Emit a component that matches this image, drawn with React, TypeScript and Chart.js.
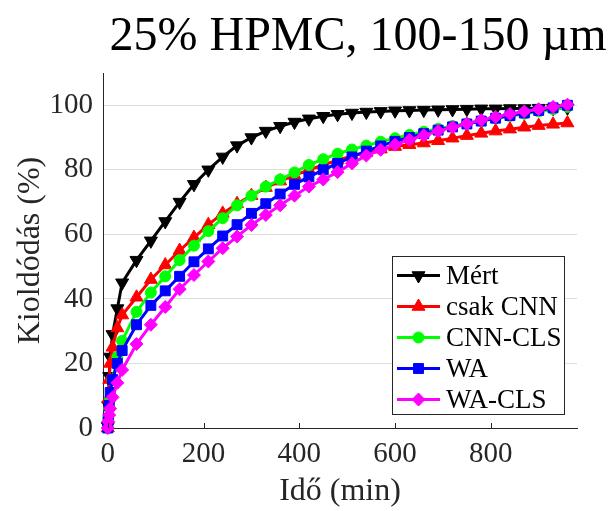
import React, { useEffect, useRef } from "react";
import { Chart, registerables } from "chart.js";
import { drawPoint } from "chart.js/helpers";

Chart.register(...registerables);

const FONT = "'Liberation Serif', 'Times New Roman', serif";
const AXIS_COLOR = "#262626";

const chartTitle = "25% HPMC, 100-150 µm";
const xAxisTitle = "Idő (min)";
const yAxisTitle = "Kioldódás (%)";

// time points (min)
const times = [
  0, 1, 3, 5, 10, 20, 30, 60, 90, 120, 150, 180, 210, 240, 270, 300, 330, 360,
  390, 420, 450, 480, 510, 540, 570, 600, 630, 660, 690, 720, 750, 780, 810,
  840, 870, 900, 930, 960,
];

const mert = [
  0.5, 7, 16, 22, 29, 37, 45, 52, 58, 64, 70, 75.5, 80, 84, 87.5, 90, 92, 93.5,
  94.8, 95.8, 96.6, 97.2, 97.6, 97.9, 98.1, 98.3, 98.4, 98.5, 98.6, 98.7, 98.8,
  98.9, 98.9, 99, 99, 99.1, 99.1, 99.2,
];

const csakCNN = [
  0, 9, 15, 20, 25, 31, 35, 40.5, 46, 50.5, 55, 59, 63, 66.5, 69.5, 72, 74.5,
  76.5, 78.3, 80, 81.5, 83, 84.3, 85.4, 86.4, 87.2, 87.8, 88.3, 89, 89.8, 90.6,
  91.3, 92, 92.6, 93.2, 93.7, 94.1, 94.5,
];

const cnnCLS = [
  0, 3, 6, 9, 15, 22, 27, 36, 42, 47, 52, 56.5, 61, 65, 69, 72, 74.8, 77, 79.2,
  81.5, 83.3, 85, 86.3, 87.5, 88.7, 89.8, 90.8, 91.8, 92.7, 93.6, 94.4, 95.2,
  96, 96.7, 97.4, 98.1, 98.8, 99.5,
];

const wa = [
  0, 3, 7, 11, 15, 20, 24, 32, 38, 42.5, 47, 51.5, 55.5, 59.5, 63, 66.5, 69.5,
  72.5, 75.5, 77.8, 80, 82, 84, 85.8, 87.4, 88.8, 90, 91.2, 92.3, 93.3, 94.2,
  95.1, 96, 96.8, 97.6, 98.4, 99.2, 100,
];

const waCLS = [
  0, 2, 4, 6, 9.5, 14, 18, 26, 32, 37.5, 43, 47.4, 51.6, 55.7, 59.3, 62.9, 66,
  69, 72, 74.8, 77, 79.3, 82, 84.4, 86.2, 87.8, 89.3, 90.7, 92, 93.2, 94.3,
  95.4, 96.4, 97.3, 98.1, 98.8, 99.5, 100.2,
];

const seriesNames = ["Mért", "csak CNN", "CNN-CLS", "WA", "WA-CLS"];
const seriesValues = [mert, csakCNN, cnnCLS, wa, waCLS];
const seriesColors = ["#000000", "#ff0000", "#00ff00", "#0000ff", "#ff00ff"];
const seriesMarkers = ["triangle", "triangle", "circle", "rect", "rectRot"];
const markerRotations = [180, 0, 0, 0, 0];
const markerRadii = [7.5, 7.5, 5.5, 7, 6.5];

const xTicks = [0, 200, 400, 600, 800];
const yTicks = [0, 20, 40, 60, 80, 100];
const xRange = [-10, 980];
const yRange = [0, 110];

const decorPlugin = {
  id: "decor",
  afterDraw(chart: any) {
    const ctx: CanvasRenderingContext2D = chart.ctx;
    const area = chart.chartArea;
    const xs = chart.scales.x;
    ctx.save();
    // inward x tick marks
    ctx.strokeStyle = AXIS_COLOR;
    ctx.lineWidth = 1;
    xTicks.forEach((v) => {
      const px = Math.round(xs.getPixelForValue(v)) + 0.5;
      ctx.beginPath();
      ctx.moveTo(px, area.bottom);
      ctx.lineTo(px, area.bottom - 5);
      ctx.stroke();
    });
    // chart title
    ctx.fillStyle = "#000000";
    ctx.font = `48px ${FONT}`;
    ctx.textAlign = "center";
    ctx.textBaseline = "alphabetic";
    ctx.fillText(chartTitle, 358, 50);
    // x axis title
    ctx.fillStyle = AXIS_COLOR;
    ctx.font = `32px ${FONT}`;
    ctx.fillText(xAxisTitle, (area.left + area.right) / 2, 500);
    // y axis title
    ctx.save();
    ctx.translate(39, (area.top + area.bottom) / 2);
    ctx.rotate(-Math.PI / 2);
    ctx.fillText(yAxisTitle, 0, 0);
    ctx.restore();

    // legend
    const bx = 392.5, by = 256.5, bw = 172, bh = 158;
    ctx.fillStyle = "#ffffff";
    ctx.fillRect(bx, by, bw, bh);
    ctx.strokeStyle = AXIS_COLOR;
    ctx.lineWidth = 1;
    ctx.strokeRect(bx, by, bw, bh);
    ctx.font = `27px ${FONT}`;
    ctx.textAlign = "left";
    ctx.textBaseline = "middle";
    chart.data.datasets.forEach((ds: any, i: number) => {
      const y = by + 19 + i * 31;
      ctx.strokeStyle = ds.borderColor;
      ctx.lineWidth = 3;
      ctx.beginPath();
      ctx.moveTo(397, y);
      ctx.lineTo(440, y);
      ctx.stroke();
      ctx.fillStyle = ds.pointBackgroundColor;
      ctx.strokeStyle = ds.pointBorderColor;
      ctx.lineWidth = 1;
      drawPoint(
        ctx,
        {
          pointStyle: ds.pointStyle,
          rotation: ds.pointRotation,
          radius: ds.pointRadius,
          borderWidth: 1,
        } as any,
        418.5,
        y
      );
      ctx.fillStyle = "#000000";
      ctx.fillText(ds.label, 446, y + 1);
    });
    ctx.restore();
  },
};

export default function App() {
  const canvasRef = useRef<HTMLCanvasElement | null>(null);

  useEffect(() => {
    if (!canvasRef.current) return;
    const datasets = seriesNames.map((name, i) => ({
      label: name,
      data: times.map((t, j) => ({ x: t, y: seriesValues[i][j] })),
      borderColor: seriesColors[i],
      backgroundColor: seriesColors[i],
      pointBackgroundColor: seriesColors[i],
      pointBorderColor: seriesColors[i],
      pointStyle: seriesMarkers[i],
      pointRotation: markerRotations[i],
      pointRadius: markerRadii[i],
      pointBorderWidth: 1,
      borderWidth: 3,
      tension: 0,
      clip: false as any,
      order: seriesNames.length - i,
    }));

    const chart = new Chart(canvasRef.current, {
      type: "line",
      data: { datasets },
      options: {
        responsive: false,
        animation: false,
        events: [],
        layout: { padding: { top: 73, right: 36, left: 0, bottom: 0 } },
        plugins: {
          legend: { display: false },
          title: { display: false },
          tooltip: { enabled: false },
        },
        scales: {
          x: {
            type: "linear",
            min: xRange[0],
            max: xRange[1],
            afterBuildTicks: (s: any) => {
              s.ticks = xTicks.map((v) => ({ value: v }));
            },
            afterFit: (s: any) => {
              s.height = 83;
            },
            grid: { display: false, drawTicks: false },
            border: { display: true, color: AXIS_COLOR, width: 1 },
            ticks: {
              font: { family: FONT, size: 29 },
              color: AXIS_COLOR,
              padding: 9,
              maxRotation: 0,
              autoSkip: false,
            },
          },
          y: {
            type: "linear",
            min: yRange[0],
            max: yRange[1],
            afterBuildTicks: (s: any) => {
              s.ticks = yTicks.map((v) => ({ value: v }));
            },
            afterFit: (s: any) => {
              s.width = 103;
            },
            grid: { color: "#dedede", lineWidth: 1, drawTicks: false },
            border: { display: true, color: AXIS_COLOR, width: 1 },
            ticks: {
              font: { family: FONT, size: 29 },
              color: AXIS_COLOR,
              padding: 10,
              autoSkip: false,
            },
          },
        },
      },
      plugins: [decorPlugin],
    });
    return () => chart.destroy();
  }, []);

  return (
    <div style={{ position: "absolute", left: 0, top: 0, width: 613, height: 511, background: "#ffffff" }}>
      <canvas ref={canvasRef} width={613} height={511} style={{ width: 613, height: 511, display: "block" }} />
    </div>
  );
}
